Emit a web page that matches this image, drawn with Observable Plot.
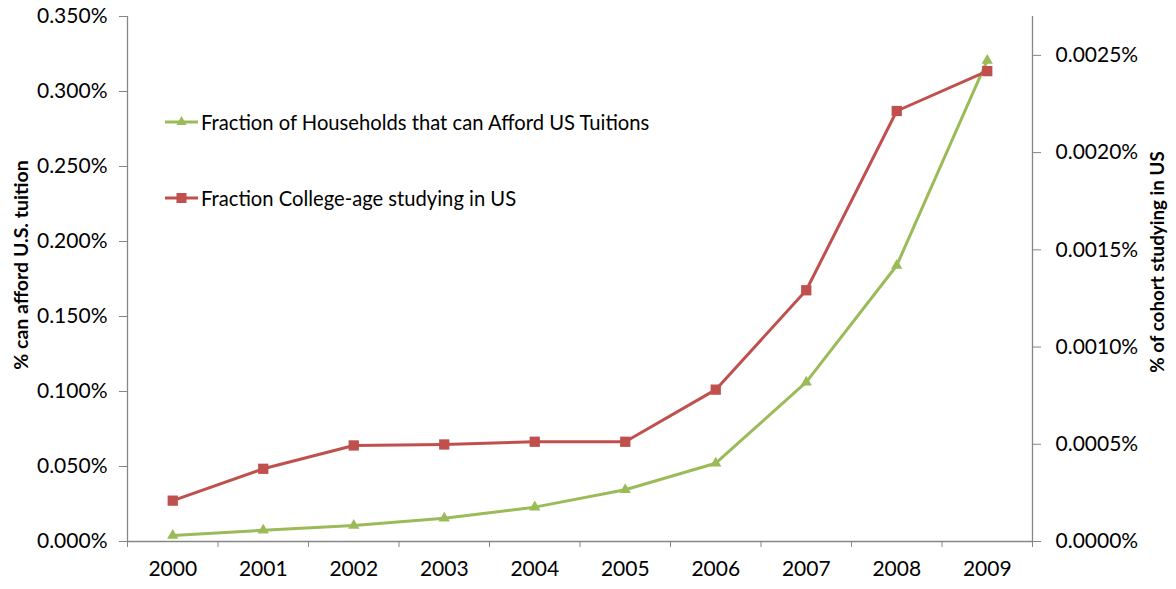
<!DOCTYPE html>
<html><head><meta charset="utf-8">
<script src="https://cdn.jsdelivr.net/npm/d3@7"></script>
<script src="https://cdn.jsdelivr.net/npm/@observablehq/plot@0.6"></script>
<style>
body{margin:0;background:#fff;}
#wrap{position:relative;width:1176px;height:589px;font-family:Lato,sans-serif;overflow:hidden;}
#legend{position:absolute;left:0;top:0;}
.li{position:absolute;display:flex;align-items:center;font-size:20.2px;color:#000;white-space:nowrap;}
.li svg{margin-right:3px;}
</style></head><body><div id="wrap"></div>
<script>
const years = [2000, 2001, 2002, 2003, 2004, 2005, 2006, 2007, 2008, 2009];
const householdsPct = [0.0040, 0.0075, 0.0107, 0.0155, 0.0229, 0.0345, 0.0522, 0.1062, 0.1840, 0.3207];
const collegePct = [0.000210, 0.000374, 0.000494, 0.000499, 0.000513, 0.000513, 0.000781, 0.001292, 0.002214, 0.002419];
const leftTicks = [0, 0.05, 0.10, 0.15, 0.20, 0.25, 0.30, 0.35];
const rightTicks = [0, 0.0005, 0.0010, 0.0015, 0.0020, 0.0025];
const seriesNames = ["Fraction of Households that can Afford US Tuitions", "Fraction College-age studying in US"];
const leftTitle = "% can afford U.S. tuition";
const rightTitle = "% of cohort studying in US";
const leftMax = 0.35, rightMax = 0.0027;

const k = leftMax / rightMax;
const green = "#9BBB59", red = "#C0504D", axisGray = "#868686";
const d1 = years.map((y, i) => ({year: y, v: householdsPct[i]}));
const d2 = years.map((y, i) => ({year: y, v: collegePct[i] * k}));
const bounds = d3.range(years.length + 1).map(i => years[0] - 0.5 + i);

const chart = Plot.plot({
  width: 1176, height: 589,
  marginLeft: 127, marginRight: 144, marginTop: 16, marginBottom: 48,
  style: {fontFamily: "Lato, sans-serif", fontSize: "21px", color: "#000", background: "#fff"},
  x: {type: "linear", domain: [years[0] - 0.5, years[years.length - 1] + 0.5]},
  y: {domain: [0, leftMax]},
  marks: [
    Plot.ruleY([0], {stroke: axisGray, strokeWidth: 1.3}),
    Plot.ruleX([bounds[0]], {stroke: axisGray, strokeWidth: 1.3}),
    Plot.ruleX([bounds[bounds.length - 1]], {stroke: axisGray, strokeWidth: 1.3}),
    Plot.axisX({ticks: bounds, tickFormat: () => "", tickSize: 6, stroke: axisGray, label: null}),
    Plot.axisX({ticks: years, tickFormat: d => String(d), tickSize: 0, tickPadding: 20, label: null, fontSize: 21}),
    Plot.axisY({ticks: leftTicks, tickFormat: d => d.toFixed(3) + "%", tickSize: 8, tickPadding: 12, stroke: axisGray, label: null, fontSize: 21}),
    Plot.axisY({anchor: "right", ticks: rightTicks.map(t => t * k), tickFormat: d => (d / k).toFixed(4) + "%", tickSize: 8, tickPadding: 15, stroke: axisGray, label: null, fontSize: 21}),
    Plot.text([leftTitle], {frameAnchor: "left", textAnchor: "middle", dx: -106, dy: -14, rotate: -90, fontWeight: "bold", fontSize: 19.5}),
    Plot.text([rightTitle], {frameAnchor: "right", textAnchor: "middle", dx: 125, dy: -17, rotate: -90, fontWeight: "bold", fontSize: 18.8}),
    Plot.line(d1, {x: "year", y: "v", stroke: green, strokeWidth: 3}),
    Plot.dot(d1, {x: "year", y: "v", symbol: "triangle", fill: green, stroke: null, r: 4.2}),
    Plot.line(d2, {x: "year", y: "v", stroke: red, strokeWidth: 3}),
    Plot.dot(d2, {x: "year", y: "v", symbol: "square", fill: red, stroke: null, r: 5.8})
  ]
});
const wrap = document.getElementById("wrap");
wrap.appendChild(chart);

// legend (inside plot area, top-left)
const legend = document.createElement("div");
legend.id = "legend";
const items = [
  {name: seriesNames[0], color: green, shape: "tri", top: 122},
  {name: seriesNames[1], color: red, shape: "sq", top: 198}
];
for (const it of items) {
  const el = document.createElement("div");
  el.className = "li";
  el.style.left = "165px";
  el.style.top = (it.top - 12) + "px";
  el.style.height = "24px";
  const mk = it.shape === "tri"
    ? `<path d="M16.5,6 L21.5,15 L11.5,15 Z" fill="${it.color}"/>`
    : `<rect x="11.5" y="7" width="10" height="10" fill="${it.color}"/>`;
  el.innerHTML = `<svg width="33" height="24"><line x1="0" x2="33" y1="12" y2="12" stroke="${it.color}" stroke-width="3"/>${mk}</svg><span>${it.name}</span>`;
  legend.appendChild(el);
}
wrap.appendChild(legend);
</script>
</body></html>
